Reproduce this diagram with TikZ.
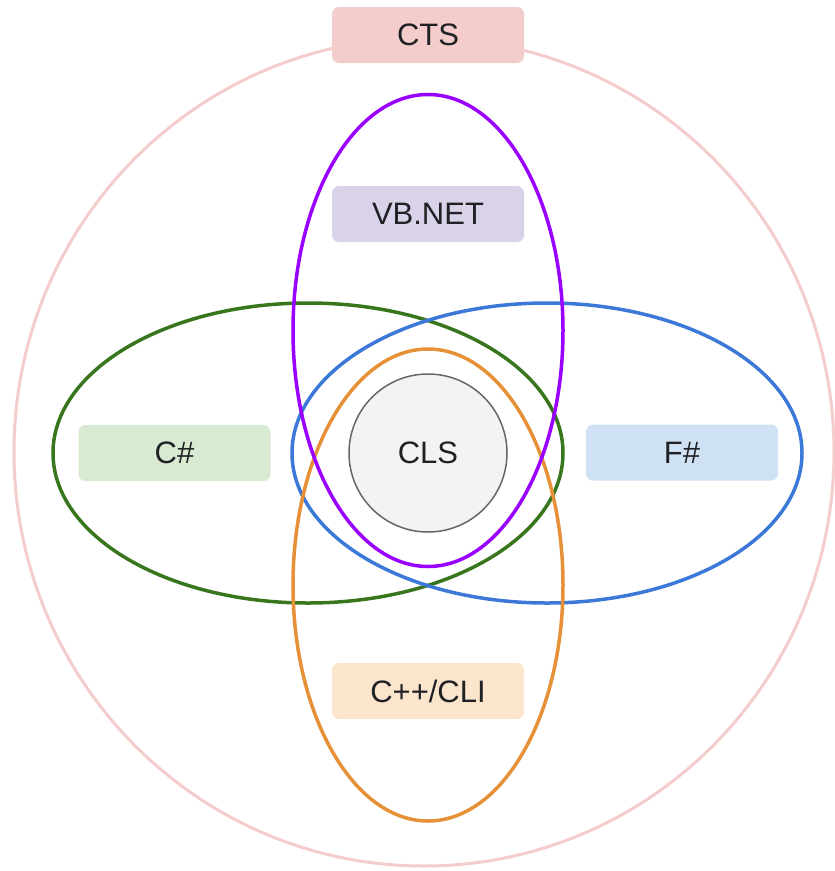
\documentclass[tikz,border=0pt]{standalone}
\usepackage{fontspec}
\setmainfont{Liberation Sans}
\usetikzlibrary{shapes.geometric}
\definecolor{ctsfill}{HTML}{F4CCCC}
\definecolor{ctsline}{HTML}{F4CCCC}
\definecolor{vbfill}{HTML}{D9D2E9}
\definecolor{vbline}{HTML}{9900FF}
\definecolor{csfill}{HTML}{D9EAD3}
\definecolor{csline}{HTML}{38761D}
\definecolor{fsfill}{HTML}{CFE2F3}
\definecolor{fsline}{HTML}{3C78D8}
\definecolor{cppfill}{HTML}{FCE5CD}
\definecolor{cppline}{HTML}{E69138}
\definecolor{clsfill}{HTML}{F3F3F3}
\definecolor{clsline}{HTML}{666666}
\definecolor{txt}{HTML}{202124}
\tikzset{
  lbl/.style={rectangle, rounded corners=7pt, minimum width=192pt, minimum height=56pt,
    inner sep=0pt, text=txt, font=\fontsize{31}{36}\selectfont},
  ring/.style={ellipse, inner sep=0pt, line width=3.5pt},
}
\begin{document}
\begin{tikzpicture}[x=1pt,y=-1pt]
\useasboundingbox (0,0) rectangle (835,871);
% CTS outer circle
\node[ellipse, draw=ctsline, line width=3pt, inner sep=0pt, minimum width=820pt, minimum height=828pt] (ctsring) at (424,452) {};
\node[lbl, fill=ctsfill] (cts) at (428,35) {CTS};
% language ellipses
\node[ring, draw=csline, minimum width=510pt, minimum height=300pt] (csring) at (308,453) {};
\node[ring, draw=fsline, minimum width=510pt, minimum height=300pt] (fsring) at (547,453) {};
\node[ring, draw=cppline, minimum width=270pt, minimum height=472pt] (cppring) at (428,585) {};
\node[ring, draw=vbline, minimum width=270pt, minimum height=472pt] (vbring) at (428,330.5) {};
% CLS
\node[circle, draw=clsline, line width=1.5pt, fill=clsfill, minimum size=158pt, inner sep=0pt,
  text=txt, font=\fontsize{31}{36}\selectfont] (cls) at (428,453) {CLS};
% labels
\node[lbl, fill=vbfill] (vb) at (428,214) {VB.NET};
\node[lbl, fill=csfill] (cs) at (174.5,453) {C\#};
\node[lbl, fill=fsfill] (fs) at (682,452.5) {F\#};
\node[lbl, fill=cppfill] (cpp) at (428,691) {C++/CLI};
\end{tikzpicture}
\end{document}
